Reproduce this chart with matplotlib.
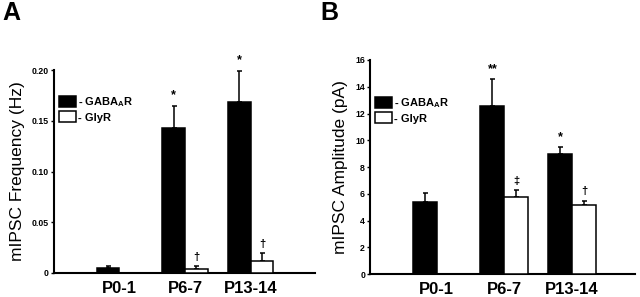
import matplotlib
matplotlib.use("Agg")
import matplotlib.pyplot as plt
import numpy as np
from matplotlib.patches import Patch

plt.rcParams['font.family'] = ['Liberation Sans', 'DejaVu Sans']

ages = ['P0-1', 'P6-7', 'P13-14']

# panel A: mIPSC frequency (Hz)
freq_gaba = [0.0052, 0.1425, 0.1688]
freq_gaba_err = [0.0020, 0.0223, 0.0305]
freq_gly = [np.nan, 0.0039, 0.0115]
freq_gly_err = [np.nan, 0.0030, 0.0079]
freq_gaba_sig = ['', '*', '*']
freq_gly_sig = ['', '\u2020', '\u2020']

# panel B: mIPSC amplitude (pA)
amp_gaba = [5.42, 12.53, 9.01]
amp_gaba_err = [0.65, 2.05, 0.50]
amp_gly = [np.nan, 5.79, 5.14]
amp_gly_err = [np.nan, 0.48, 0.35]
amp_gaba_sig = ['', '**', '*']
amp_gly_sig = ['', '\u2021', '\u2020']


def draw_panel(ax, gaba, gaba_err, gly, gly_err, gaba_sig, gly_sig,
               width, xlim, ylim, yticks, ylabels, ylabel, leg_y):
    x = np.arange(len(ages))
    ekw = dict(ecolor='black', elinewidth=1.1, capsize=1.8, capthick=1.1)
    ax.bar(x - width / 2, gaba, width, color='black', edgecolor='black',
           linewidth=1.1, zorder=3)
    ax.errorbar(x - width / 2, gaba, yerr=[np.zeros(3), gaba_err],
                fmt='none', zorder=2, **ekw)
    ax.bar(x + width / 2, gly, width, color='white', edgecolor='black',
           linewidth=1.1, zorder=3)
    ax.errorbar(x + width / 2, gly, yerr=[np.zeros(3), gly_err],
                fmt='none', zorder=2, **ekw)

    for i in range(len(ages)):
        if gaba_sig[i]:
            ax.annotate(gaba_sig[i], (x[i] - width / 2, gaba[i] + gaba_err[i]),
                        xytext=(0, 3), textcoords='offset points',
                        ha='center', va='bottom', fontsize=9,
                        fontweight='bold', annotation_clip=False)
        if gly_sig[i]:
            ax.annotate(gly_sig[i], (x[i] + width / 2, gly[i] + gly_err[i]),
                        xytext=(0, 3), textcoords='offset points',
                        ha='center', va='bottom', fontsize=8,
                        fontweight='bold', annotation_clip=False)

    ax.set_xlim(*xlim)
    ax.set_ylim(*ylim)
    ax.set_yticks(yticks)
    ax.set_yticklabels(ylabels, fontsize=6.3, fontweight='bold')
    ax.set_xticks(x)
    ax.set_xticklabels(ages, fontsize=12, fontweight='bold')
    ax.tick_params(axis='x', length=0, pad=6)
    ax.tick_params(axis='y', length=2.5, width=1, pad=1)
    ax.set_ylabel(ylabel, fontsize=12.5, labelpad=5)
    for s in ['top', 'right']:
        ax.spines[s].set_visible(False)
    for s in ['left', 'bottom']:
        ax.spines[s].set_linewidth(1.5)

    handles = [Patch(facecolor='black', edgecolor='black', linewidth=1.1),
               Patch(facecolor='white', edgecolor='black', linewidth=1.1)]
    ax.legend(handles, ['- GABA$_\\mathregular{A}$R', '- GlyR'],
              loc='upper left', bbox_to_anchor=(0.02, leg_y), frameon=False,
              prop={'size': 8, 'weight': 'bold'}, handlelength=1.5,
              handleheight=1.1, handletextpad=0.2, labelspacing=0.2,
              borderpad=0, borderaxespad=0)


fig = plt.figure(figsize=(6.4, 2.97), dpi=100)
axA = fig.add_axes([0.084, 0.081, 0.408, 0.683])
axB = fig.add_axes([0.578, 0.077, 0.414, 0.721])

draw_panel(axA, freq_gaba, freq_gaba_err, freq_gly, freq_gly_err,
           freq_gaba_sig, freq_gly_sig, 0.345, (-1.0, 2.98), (0, 0.2),
           [0, 0.05, 0.10, 0.15, 0.20], ['0', '0.05', '0.10', '0.15', '0.20'],
           'mIPSC Frequency (Hz)', 0.875)
draw_panel(axB, amp_gaba, amp_gaba_err, amp_gly, amp_gly_err,
           amp_gaba_sig, amp_gly_sig, 0.355, (-0.99, 2.93), (0, 16),
           list(range(0, 17, 2)), [str(v) for v in range(0, 17, 2)],
           'mIPSC Amplitude (pA)', 0.83)

fig.text(0.003, 0.995, 'A', fontsize=18, fontweight='bold', va='top', ha='left')
fig.text(0.5, 0.995, 'B', fontsize=18, fontweight='bold', va='top', ha='left')

fig.savefig('out.png', dpi=100)
